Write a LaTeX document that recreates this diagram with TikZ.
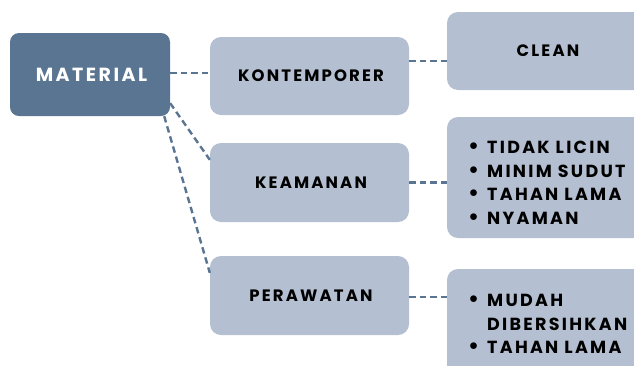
\documentclass[tikz,border=0pt]{standalone}
\usepackage{fontspec}
\setmainfont{Poppins}[LetterSpace=13]
\definecolor{darkbox}{HTML}{5A7591}
\definecolor{lightbox}{HTML}{B4C0D1}
\definecolor{linecol}{HTML}{5A7591}
\newcommand{\bigbul}{{\fontsize{22}{20}\selectfont\textbullet}}
\begin{document}
\begin{tikzpicture}[x=1pt,y=-1pt,
  box/.style={fill=lightbox,rounded corners=11pt,inner sep=0pt,font=\bfseries\fontsize{16.5}{20}\selectfont,text=black},
  mainbox/.style={fill=darkbox,rounded corners=9pt,inner sep=0pt,font=\bfseries\fontsize{19}{22}\selectfont,text=white},
  conn/.style={draw=linecol,line width=2.4pt,dash pattern=on 6.5pt off 4pt},
  listtext/.style={anchor=north west,inner sep=0pt,font=\bfseries\fontsize{17.5}{23.5}\selectfont,align=left,text=black}]
\useasboundingbox (0,0) rectangle (634,365);
\fill[white] (0,0) rectangle (634,365);
\node[mainbox,minimum width=160pt,minimum height=83pt] (mat) at (90,74.5) {\hspace*{3pt}MATERIAL};
\node[box,minimum width=199pt,minimum height=78pt] (kon) at (309.5,76) {\hspace*{3pt}KONTEMPORER};
\node[box,minimum width=199pt,minimum height=79pt] (kea) at (309.5,182.5) {\hspace*{3pt}KEAMANAN};
\node[box,minimum width=199pt,minimum height=79pt] (per) at (309.5,295.5) {\hspace*{3pt}PERAWATAN};
\node[box,minimum width=203pt,minimum height=78pt] (clean) at (548.5,51) {\hspace*{-1pt}CLEAN};
\node[box,minimum width=203pt,minimum height=121pt] (b2) at (548.5,177.5) {};
\node[box,minimum width=203pt,minimum height=108pt] (b3) at (548.5,323) {};
\node[listtext] (t2) at (468,137) {%
  \begin{tabular}{@{}l@{\hspace{8pt}}l@{}}
  \bigbul & TIDAK LICIN\\
  \bigbul & MINIM SUDUT\\
  \bigbul & TAHAN LAMA\\
  \bigbul & NYAMAN
  \end{tabular}};
\node[listtext] (t3) at (468,290) {%
  \begin{tabular}{@{}l@{\hspace{8pt}}l@{}}
  \bigbul & MUDAH\\
   & DIBERSIHKAN\\
  \bigbul & TAHAN LAMA
  \end{tabular}};
\draw[conn] ([yshift=1.5pt]mat.east) -- ([yshift=1.5pt]mat.east -| kon.west);
\draw[conn] ([yshift=15pt]kon.east) -- ([yshift=15pt]kon.east -| clean.west);
\draw[conn] (kea.east) -- (kea.east -| b2.west);
\draw[conn] ([yshift=-1.5pt]per.east) -- ([yshift=-1.5pt]per.east -| b3.west);
\draw[conn] ([yshift=13pt]mat.south east) -- ([yshift=-17pt]kea.north west);
\draw[conn] ([xshift=-6pt]mat.south east) -- ([yshift=-17pt]per.north west);
\end{tikzpicture}
\end{document}
